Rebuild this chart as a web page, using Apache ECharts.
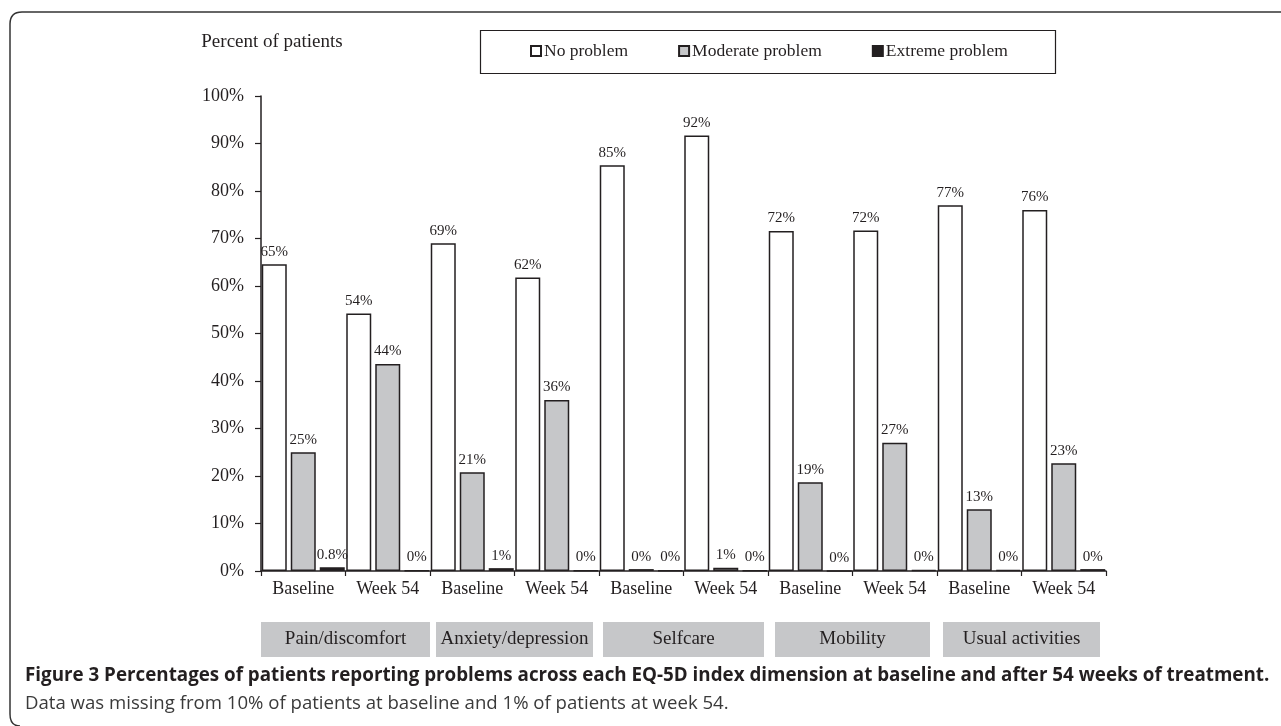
<!DOCTYPE html>
<html>
<head>
<meta charset="utf-8">
<script src="https://cdn.jsdelivr.net/npm/echarts@6/dist/echarts.min.js"></script>
<style>
html,body{margin:0;padding:0;background:#fff;}
#chart{width:1281px;height:726px;}
</style>
</head>
<body>
<div id="chart"></div>
<script>
const categories = ['Baseline','Week 54','Baseline','Week 54','Baseline','Week 54','Baseline','Week 54','Baseline','Week 54'];
const groups = ['Pain/discomfort','Anxiety/depression','Selfcare','Mobility','Usual activities'];
const seriesNames = ['No problem','Moderate problem','Extreme problem'];
const noProblem = [64.6, 54.2, 69.0, 61.8, 85.4, 91.7, 71.6, 71.7, 77.0, 76.0];
const moderateProblem = [25.0, 43.6, 20.8, 36.0, 0.4, 0.7, 18.7, 27.0, 13.0, 22.7];
const extremeProblem = [0.8, 0.1, 0.6, 0.1, 0.1, 0.1, 0, 0.2, 0.2, 0.4];
const noLabels = ['65%','54%','69%','62%','85%','92%','72%','72%','77%','76%'];
const modLabels = ['25%','44%','21%','36%','0%','1%','19%','27%','13%','23%'];
const extLabels = ['0.8%','0%','1%','0%','0%','0%','0%','0%','0%','0%'];
const yTicks = [0,10,20,30,40,50,60,70,80,90,100];

const serif = '"Liberation Serif","Times New Roman",serif';
const sans = '"Open Sans","Noto Sans",sans-serif';
const ink = '#231f20';
const boxWidths = [169, 157, 161, 155, 157];

function mkSeries(name, data, labels, fill) {
  return {
    name: name, type: 'bar', data: data,
    barWidth: 25, barGap: '16%',
    itemStyle: {color: fill, borderColor: ink, borderWidth: 1.5},
    label: {show: true, position: 'top', distance: 5,
      fontFamily: serif, fontSize: 15, color: ink,
      formatter: p => labels[p.dataIndex]},
    emphasis: {disabled: true}
  };
}

const boxRich = {};
boxWidths.forEach((w, i) => {
  boxRich['b' + i] = {backgroundColor: '#c6c7c9', width: w, height: 35, lineHeight: 35,
    align: 'center', fontFamily: serif, fontSize: 19, color: ink};
});

const frameStyle = {fill: null, stroke: '#333', lineWidth: 1.5};
const chart = echarts.init(document.getElementById('chart'));
chart.setOption({
  animation: false,
  backgroundColor: '#fff',
  grid: {left: 261, right: 175, top: 96, bottom: 155},
  legend: {
    data: seriesNames.map(n => ({name: n, icon: 'rect'})), left: 530, top: 42, padding: 0,
    itemWidth: 10, itemHeight: 10, itemGap: 50,
    textStyle: {fontFamily: serif, fontSize: 17.5, color: ink, padding: [0, 0, 0, -2]}
  },
  xAxis: [{
    type: 'category', data: categories, position: 'bottom',
    axisLine: {lineStyle: {color: ink, width: 1.5}},
    axisTick: {show: true, length: 5, lineStyle: {color: ink, width: 1.2}},
    axisLabel: {fontFamily: serif, fontSize: 18, color: ink, margin: 9, interval: 0}
  }, {
    type: 'category', data: groups, position: 'bottom',
    axisLine: {show: false}, axisTick: {show: false},
    axisLabel: {margin: 51, interval: 0, rich: boxRich,
      formatter: (v, i) => '{b' + i + '|' + v + '}'}
  }],
  yAxis: {
    type: 'value', min: yTicks[0], max: yTicks[yTicks.length-1], interval: 10,
    name: 'Percent of patients', nameLocation: 'end', nameGap: 44,
    nameTextStyle: {fontFamily: serif, fontSize: 19, color: ink, align: 'center', padding: [0, 0, 0, 22]},
    axisLine: {show: true, lineStyle: {color: ink, width: 1.5}},
    axisTick: {show: true, length: 6, lineStyle: {color: ink, width: 1.2}},
    splitLine: {show: false},
    axisLabel: {fontFamily: serif, fontSize: 18, color: ink, margin: 17, formatter: '{value}%'}
  },
  series: [
    mkSeries(seriesNames[0], noProblem, noLabels, '#ffffff'),
    mkSeries(seriesNames[1], moderateProblem, modLabels, '#c6c7c9'),
    mkSeries(seriesNames[2], extremeProblem, extLabels, '#231f20')
  ],
  graphic: [
    {type: 'line', silent: true, shape: {x1: 22, y1: 12, x2: 1281, y2: 12}, style: frameStyle},
    {type: 'line', silent: true, shape: {x1: 10, y1: 24, x2: 10, y2: 714}, style: frameStyle},
    {type: 'bezierCurve', silent: true, shape: {x1: 10, y1: 24, x2: 22, y2: 12, cpx1: 10, cpy1: 12}, style: frameStyle},
    {type: 'bezierCurve', silent: true, shape: {x1: 10, y1: 714, x2: 20, y2: 726, cpx1: 10, cpy1: 726}, style: frameStyle},
    {type: 'rect', silent: true, left: 478, top: 28,
      shape: {x: 0, y: 0, width: 575, height: 43},
      style: {fill: null, stroke: ink, lineWidth: 1.2}},
    {type: 'text', silent: true, left: 25, top: 666,
      style: {text: 'Figure 3 Percentages of patients reporting problems across each EQ-5D index dimension at baseline and after 54 weeks of treatment.',
        font: 'bold 18.8px ' + sans, fill: ink}},
    {type: 'text', silent: true, left: 25, top: 694,
      style: {text: 'Data was missing from 10% of patients at baseline and 1% of patients at week 54.',
        font: '18.6px ' + sans, fill: '#3a3a3a'}}
  ]
});
</script>
</body>
</html>
